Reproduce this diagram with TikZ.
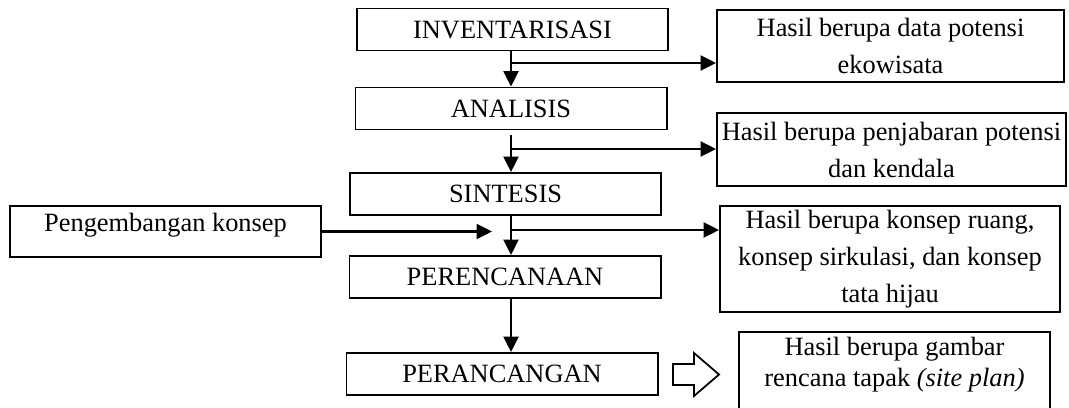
\documentclass[tikz,border=0pt]{standalone}
\usepackage{fontspec}
\setmainfont{Liberation Serif}
\usetikzlibrary{arrows.meta}
\newcommand{\px}{0.4545pt}

\begin{document}
\begin{tikzpicture}[x=\px, y=-\px,
    stage/.style={draw, line width=0.9pt, inner sep=0pt,
      minimum width=311*\px, minimum height=42*\px,
      font=\fontsize{12}{14}\selectfont},
    result/.style={draw, line width=0.9pt, inner sep=0pt, align=center,
      font=\fontsize{12}{16.8}\selectfont},
    flow/.style={line width=1.1pt, -{Triangle[length=7pt, width=6.8pt]}},
    hollow/.style={draw, line width=0.8pt, line join=miter}]
  \useasboundingbox (0,0) rectangle (1069,407);
  \clip (0,0) rectangle (1069,407);
  % main stages
  \node[stage] (inv) at (512.5,29.5) {INVENTARISASI};
  \node[stage] (ana) at (511,108.5) {ANALISIS};
  \node[stage] (sin) at (505.5,194) {SINTESIS};
  \node[stage] (per) at (505,277) {PERENCANAAN};
  \node[stage] (pra) at (502,374) {PERANCANGAN};
  % input from the left
  \node[stage, minimum height=51*\px, text height=8pt, text depth=8pt]
    (kon) at (165.5,231.5) {Pengembangan konsep};
  % results
  \node[result, minimum width=347*\px, minimum height=72*\px]
    (h1) at (890.5,46) {Hasil berupa data potensi\\ekowisata};
  \node[result, minimum width=349*\px, minimum height=73*\px]
    (h2) at (891.5,149.5) {Hasil berupa penjabaran potensi\\dan kendala};
  \node[result, minimum width=340*\px, minimum height=106*\px]
    (h3) at (890,259) {Hasil berupa konsep ruang,\\konsep sirkulasi, dan konsep\\tata hijau};
  % last result, cut by the page edge
  \draw[line width=0.9pt] (739,332) rectangle (1050,440);
  \node[align=center, inner sep=0pt, anchor=north,
    font=\fontsize{12}{13.8}\selectfont]
    (h4) at (894.5,337) {Hasil berupa gambar\\rencana tapak \textit{(site plan)}};
  % trunk and branches
  \coordinate (b1) at (511,63);
  \coordinate (b2) at (511,149);
  \coordinate (b3) at (511,230);
  \coordinate (kin) at (492,232);
  \draw[flow] (inv.south -| b1) -- (ana.north -| b1);
  \draw[flow] (b1) -- (b1 -| h1.west);
  \draw[flow, shorten <=2pt] (ana.south -| b2) -- (sin.north -| b2);
  \draw[flow] (b2) -- (b2 -| h2.west);
  \draw[flow] (sin.south -| b3) -- (per.north -| b3);
  \draw[flow] (b3) -- (b3 -| h3.west);
  \draw[flow] (kon.east) -- (kon.east -| kin);
  \draw[flow] (per.south -| b3) -- (pra.north -| b3);
  % open arrow to the site plan
  \draw[hollow] (673,364) -- (694,364) -- (694,353) -- (719,374.5)
    -- (694,396) -- (694,385) -- (673,385) -- cycle;
\end{tikzpicture}
\end{document}
